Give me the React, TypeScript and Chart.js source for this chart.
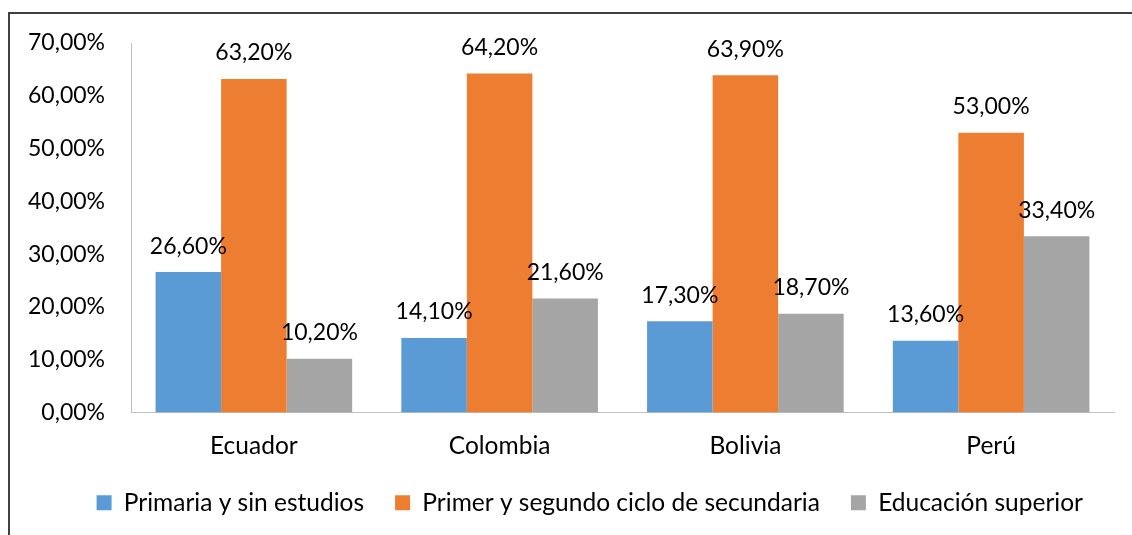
import React, { useEffect, useRef } from "react";
import { Chart, registerables } from "chart.js";

Chart.register(...registerables);

const categories = ["Ecuador", "Colombia", "Bolivia", "Perú"];
const seriesNames = [
  "Primaria y sin estudios",
  "Primer y segundo ciclo de secundaria",
  "Educación superior",
];
const primaria = [26.6, 14.1, 17.3, 13.6];
const secundaria = [63.2, 64.2, 63.9, 53.0];
const superior = [10.2, 21.6, 18.7, 33.4];
const seriesColors = ["#5B9BD5", "#ED7D31", "#A5A5A5"];
const yMin = 0;
const yMax = 70;
const yStep = 10;

const FONT = "Lato";
const FS_NUM = 23;
const FS_TXT = 24.5;

const fmt = (v: number) => v.toFixed(2).replace(".", ",") + "%";

const framePlugin = {
  id: "frame",
  afterDraw(chart: any) {
    const ctx = chart.ctx;
    ctx.save();
    ctx.fillStyle = "#404040";
    ctx.fillRect(8, 12, chart.width - 8, 2);
    ctx.fillRect(8, 12, 2, chart.height - 12);
    ctx.restore();
  },
};

const labelPlugin = {
  id: "valueLabels",
  afterDatasetsDraw(chart: any) {
    const ctx = chart.ctx;
    ctx.save();
    ctx.font = `${FS_NUM}px ${FONT}`;
    ctx.fillStyle = "#000000";
    ctx.textAlign = "center";
    ctx.textBaseline = "middle";
    chart.data.datasets.forEach((ds: any, i: number) => {
      const meta = chart.getDatasetMeta(i);
      meta.data.forEach((bar: any, j: number) => {
        ctx.fillText(fmt(ds.data[j]), bar.x, bar.y - 26);
      });
    });
    ctx.restore();
  },
};

export default function App() {
  const ref = useRef<HTMLCanvasElement>(null);
  useEffect(() => {
    if (!ref.current) return;
    const chart = new Chart(ref.current, {
      type: "bar",
      data: {
        labels: categories,
        datasets: [primaria, secundaria, superior].map((d, i) => ({
          label: seriesNames[i],
          data: d,
          backgroundColor: seriesColors[i],
          borderWidth: 0,
          categoryPercentage: 0.8,
          barPercentage: 1.0,
        })),
      },
      options: {
        animation: false,
        responsive: false,
        maintainAspectRatio: false,
        layout: { padding: { left: 20, top: 43, right: 18, bottom: 10 } },
        plugins: {
          tooltip: { enabled: false },
          legend: {
            position: "bottom",
            align: "end",
            labels: {
              boxWidth: 15,
              boxHeight: 15,
              padding: 31,
              color: "#000000",
              font: { family: FONT, size: FS_TXT },
            },
          },
        },
        scales: {
          x: {
            grid: { display: false, drawTicks: false },
            border: { display: true, color: "#BFBFBF", width: 1 },
            ticks: {
              color: "#000000",
              font: { family: FONT, size: FS_TXT },
              padding: 19,
            },
            afterFit(scale: any) {
              scale.height = 47;
            },
          },
          y: {
            min: yMin,
            max: yMax,
            grid: { display: false, drawTicks: false },
            border: { display: true, color: "#BFBFBF", width: 1 },
            ticks: {
              stepSize: yStep,
              color: "#000000",
              font: { family: FONT, size: FS_NUM },
              padding: 26,
              callback: (v: any) => fmt(Number(v)),
            },
            afterFit(scale: any) {
              scale.width = 111;
            },
          },
        },
      },
      plugins: [framePlugin, labelPlugin],
    });
    return () => chart.destroy();
  }, []);
  return (
    <div style={{ position: "fixed", left: 0, top: 0, width: 1132, height: 535, background: "#fff" }}>
      <canvas ref={ref} width={1132} height={535} style={{ width: 1132, height: 535 }} />
    </div>
  );
}
